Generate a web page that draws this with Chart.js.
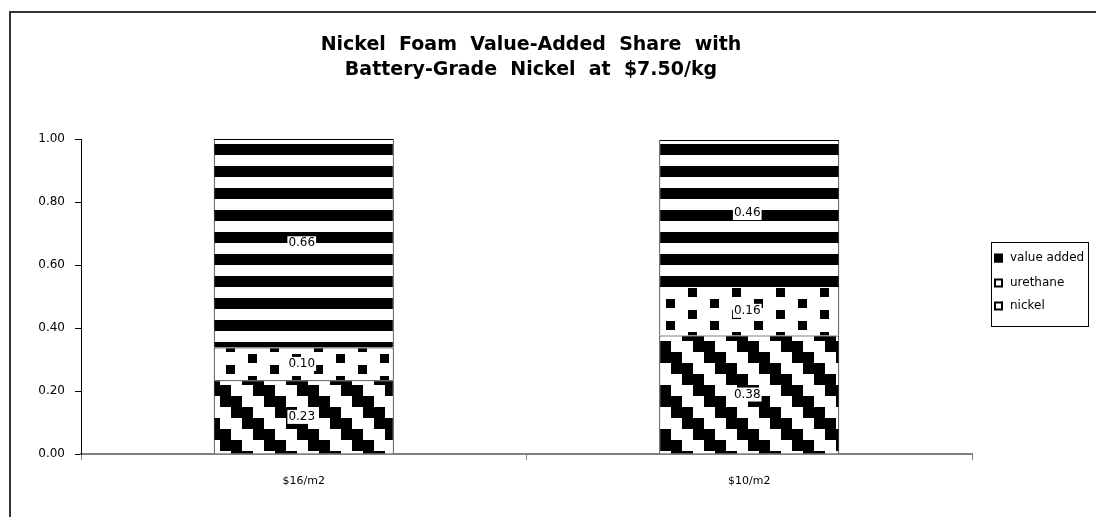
<!DOCTYPE html>
<html>
<head>
<meta charset="utf-8">
<script src="https://cdn.jsdelivr.net/npm/chart.js@4.4.0/dist/chart.umd.min.js"></script>
<style>
  html, body { margin: 0; padding: 0; background: #fff; }
  #wrap { width: 1096px; height: 517px; }
</style>
</head>
<body>
<div id="wrap"><canvas id="chart" width="1096" height="517"></canvas></div>
<script>
// ---------- data ----------
const categories = ['$16/m2', '$10/m2'];
const seriesNames = ['nickel', 'urethane', 'value added'];
const nickel = [0.234, 0.376];
const urethane = [0.104, 0.157];
const valueAdded = [0.662, 0.464];
const yTicks = [0, 0.2, 0.4, 0.6, 0.8, 1.0];
const titleLines = ['Nickel  Foam  Value-Added  Share  with', 'Battery-Grade  Nickel  at  $7.50/kg'];

const canvas = document.getElementById('chart');
const ctx = canvas.getContext('2d');

// black & white fill patterns (like the old spreadsheet fills)
function makePattern(w, h, draw) {
    const c = document.createElement('canvas');
    c.width = w; c.height = h;
    const g = c.getContext('2d');
    g.fillStyle = '#fff';
    g.fillRect(0, 0, w, h);
    g.fillStyle = '#000';
    draw(g);
    return ctx.createPattern(c, 'repeat');
}

// staircase diagonal
const patNickel = makePattern(44, 44, g => {
    for (let r = 0; r < 4; r++) {
        g.fillRect(r * 11, r * 11, 22, 11);
        g.fillRect(r * 11 - 44, r * 11, 22, 11);
    }
});
// offset squares
const patUrethane = makePattern(44, 22, g => {
    g.fillRect(28, 2, 9, 9);
    g.fillRect(6, 13, 9, 9);
});
// horizontal bands
const patValue = makePattern(8, 22, g => {
    g.fillRect(0, 12, 8, 10);
    g.fillRect(0, 0, 8, 1);
});

const FONT = "'DejaVu Sans', sans-serif";

const decor = {
    id: 'decor',
    afterDatasetsDraw(chart) {
        const c = chart.ctx;
        c.save();
        // values inside the segments
        c.font = '12px ' + FONT;
        c.textAlign = 'center';
        c.textBaseline = 'middle';
        chart.data.datasets.forEach((ds, di) => {
            chart.getDatasetMeta(di).data.forEach((el, i) => {
                const yMid = (el.y + el.base) / 2;
                const txt = ds.data[i].toFixed(2);
                const w = c.measureText(txt).width;
                c.fillStyle = '#fff';
                c.fillRect(el.x - 2 - w / 2 - 1, yMid - 7, w + 2, 14);
                c.fillStyle = '#000';
                c.fillText(txt, el.x - 2, yMid);
            });
        });
        c.restore();
    },
    afterDraw(chart) {
        const c = chart.ctx;
        c.save();
        // outer frame
        c.strokeStyle = '#333';
        c.lineWidth = 2;
        c.strokeRect(10, 12, 1100, 520);

        // title
        c.fillStyle = '#000';
        c.font = 'bold 19px ' + FONT;
        c.textAlign = 'center';
        c.textBaseline = 'middle';
        titleLines.forEach((t, i) => c.fillText(t, 531, 45 + i * 25));

        // legend (reverse order like the stack)
        c.lineWidth = 1;
        c.strokeStyle = '#000';
        c.strokeRect(991.5, 242.5, 97, 84);
        const ys = [258, 283, 306];
        c.font = '12px ' + FONT;
        c.textAlign = 'left';
        const dsets = chart.data.datasets.slice().reverse();
        dsets.forEach((ds, i) => {
            const y = ys[i];
            c.fillStyle = ds.backgroundColor;
            c.fillRect(994, y - 4.5, 9, 9);
            c.lineWidth = 2;
            c.strokeRect(995, y - 3.5, 7, 7);
            c.fillStyle = '#000';
            c.fillText(ds.label, 1010, y);
        });
        c.restore();
    }
};

new Chart(ctx, {
    type: 'bar',
    data: {
        labels: categories,
        datasets: [
            { label: seriesNames[0], data: nickel, backgroundColor: patNickel },
            { label: seriesNames[1], data: urethane, backgroundColor: patUrethane },
            { label: seriesNames[2], data: valueAdded, backgroundColor: patValue }
        ].map(d => Object.assign(d, {
            borderColor: '#000',
            borderWidth: 1,
            categoryPercentage: 1.0,
            barPercentage: 0.404
        }))
    },
    options: {
        responsive: false,
        animation: false,
        devicePixelRatio: 1,
        layout: { padding: { top: 139, right: 124, bottom: 0, left: 0 } },
        plugins: {
            legend: { display: false },
            title: { display: false },
            tooltip: { enabled: false }
        },
        scales: {
            x: {
                stacked: true,
                afterFit: s => { s.height = 63; },
                border: { color: '#808080', width: 2 },
                grid: { offset: true, drawOnChartArea: false, color: '#808080', tickLength: 6 },
                ticks: { color: '#000', font: { family: FONT, size: 11 }, padding: 15 }
            },
            y: {
                stacked: true,
                min: 0,
                max: 1,
                afterFit: s => { s.width = 81; },
                afterBuildTicks: s => { s.ticks = yTicks.map(v => ({ value: v })); },
                border: { color: '#000', width: 1 },
                grid: { drawOnChartArea: false, color: '#000', tickLength: 6 },
                ticks: {
                    color: '#000',
                    font: { family: FONT, size: 12 },
                    padding: 10,
                    callback: v => Number(v).toFixed(2)
                }
            }
        }
    },
    plugins: [decor]
});
</script>
</body>
</html>
